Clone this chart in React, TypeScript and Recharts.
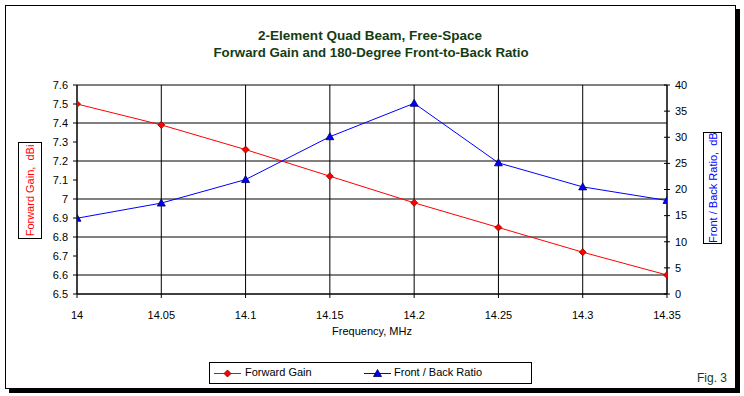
import React from "react";
import { LineChart, Line, XAxis, YAxis, CartesianGrid, Legend } from "recharts";

const freqs = [14, 14.05, 14.1, 14.15, 14.2, 14.25, 14.3, 14.35];
const forwardGain = [7.5, 7.39, 7.26, 7.12, 6.98, 6.85, 6.72, 6.6];
const frontBack = [14.5, 17.4, 21.9, 30.1, 36.5, 25.1, 20.5, 17.9];
const gainTicks = [6.5, 6.6, 6.7, 6.8, 6.9, 7, 7.1, 7.2, 7.3, 7.4, 7.5, 7.6];
const fbTicks = [0, 5, 10, 15, 20, 25, 30, 35, 40];

const data = freqs.map((f, i) => ({ freq: f, gain: forwardGain[i], fb: frontBack[i] }));

const FONT = "'Liberation Sans', Arial, sans-serif";
const TITLE_COLOR = "#143c14";

const Diamond = (props: any) => {
  const { cx, cy } = props;
  if (cx == null || cy == null) return null;
  const r = 3.5;
  return (
    <polygon
      points={`${cx},${cy - r} ${cx + r},${cy} ${cx},${cy + r} ${cx - r},${cy}`}
      fill="#ff0000"
      stroke="#800000"
      strokeWidth={0.8}
    />
  );
};

const Triangle = (props: any) => {
  const { cx, cy } = props;
  if (cx == null || cy == null) return null;
  return (
    <polygon
      points={`${cx},${cy - 4} ${cx + 4},${cy + 3} ${cx - 4},${cy + 3}`}
      fill="#0000ff"
      stroke="#000060"
      strokeWidth={0.8}
    />
  );
};

const RightTick = (props: any) => {
  const { x, y, payload } = props;
  return (
    <g>
      <line x1={x - 11} x2={x - 8} y1={y} y2={y} stroke="#000" />
      <text x={x} y={y} dy="0.35em" textAnchor="start" fontSize={11} fontFamily={FONT} fill="#000">
        {payload.value}
      </text>
    </g>
  );
};

const LegendContent = () => (
  <div style={{ position: "relative", width: "100%", height: "100%", fontFamily: FONT, fontSize: 11 }}>
    <svg width={28} height={20} style={{ position: "absolute", left: 4, top: 0 }}>
      <line x1={0} x2={27} y1={10.5} y2={10.5} stroke="#ff0000" />
      <polygon points="13.5,7 17,10.5 13.5,14 10,10.5" fill="#ff0000" stroke="#800000" strokeWidth={0.8} />
    </svg>
    <span style={{ position: "absolute", left: 35, top: 3, color: "#000" }}>Forward Gain</span>
    <svg width={28} height={20} style={{ position: "absolute", left: 154, top: 0 }}>
      <line x1={0} x2={27} y1={10.5} y2={10.5} stroke="#0000ff" />
      <polygon points="13.5,6.5 17.5,13.5 9.5,13.5" fill="#0000ff" stroke="#000060" strokeWidth={0.8} />
    </svg>
    <span style={{ position: "absolute", left: 184, top: 3, color: "#000" }}>Front / Back Ratio</span>
  </div>
);

export default function App() {
  return (
    <div style={{ position: "fixed", left: 0, top: 0, width: 744, height: 396, background: "#fff", fontFamily: FONT }}>
      <LineChart width={744} height={396} data={data} margin={{ top: 85, right: 37, bottom: 57, left: 37 }}>
        <CartesianGrid yAxisId="left" stroke="#000" strokeWidth={1} />
        <XAxis
          dataKey="freq"
          type="number"
          domain={[14, 14.35]}
          ticks={freqs}
          allowDataOverflow
          height={45}
          stroke="#000"
          tickSize={4}
          tickMargin={13}
          tick={{ fill: "#000", fontSize: 11, fontFamily: FONT }}
          tickFormatter={(v: number) => String(v)}
          label={{
            content: (p: any) => (
              <text
                x={p.viewBox.x + p.viewBox.width / 2}
                y={p.viewBox.y + 41}
                textAnchor="middle"
                fontSize={11}
                fontFamily={FONT}
                fill="#000"
              >
                Frequency, MHz
              </text>
            ),
          }}
        />
        <YAxis
          yAxisId="left"
          domain={[6.5, 7.6]}
          ticks={gainTicks}
          allowDataOverflow
          width={40}
          stroke="#000"
          tickSize={4}
          tickMargin={5}
          tick={{ fill: "#000", fontSize: 11, fontFamily: FONT }}
          tickFormatter={(v: number) => String(v)}
        />
        <YAxis
          yAxisId="right"
          orientation="right"
          domain={[0, 40]}
          ticks={fbTicks}
          allowDataOverflow
          width={40}
          stroke="#000"
          tickSize={3}
          tickMargin={5}
          tick={<RightTick />}
        />
        <Line
          yAxisId="left"
          dataKey="gain"
          name="Forward Gain"
          stroke="#ff0000"
          strokeWidth={1}
          dot={<Diamond />}
          activeDot={false}
          isAnimationActive={false}
        />
        <Line
          yAxisId="right"
          dataKey="fb"
          name="Front / Back Ratio"
          stroke="#0000ff"
          strokeWidth={1}
          dot={<Triangle />}
          activeDot={false}
          isAnimationActive={false}
        />
        <Legend
          verticalAlign="middle"
          align="center"
          layout="horizontal"
          content={<LegendContent />}
          wrapperStyle={{
            left: 209,
            top: 362,
            width: 323,
            height: 22,
            border: "1px solid #000",
            boxSizing: "border-box",
            background: "#fff",
          }}
        />
      </LineChart>
      <svg width={744} height={396} style={{ position: "absolute", left: 0, top: 0, pointerEvents: "none", zIndex: 2 }}>
        <defs>
          <clipPath id="rclip">
            <rect x={703.5} y={132.5} width={18} height={111} />
          </clipPath>
        </defs>
        <rect x={5.5} y={5.5} width={730} height={383} fill="none" stroke="#000" />
        <rect x={735} y={9} width={5} height={384} fill="#000" />
        <rect x={9} y={388} width={731} height={5} fill="#000" />
        <text
          x={370}
          y={39.5}
          textAnchor="middle"
          fontSize={13}
          fontWeight="bold"
          fontFamily={FONT}
          fill={TITLE_COLOR}
          textLength={224}
          lengthAdjust="spacingAndGlyphs"
        >
          2-Element Quad Beam, Free-Space
        </text>
        <text
          x={371}
          y={56.5}
          textAnchor="middle"
          fontSize={13}
          fontWeight="bold"
          fontFamily={FONT}
          fill={TITLE_COLOR}
          textLength={315}
          lengthAdjust="spacingAndGlyphs"
        >
          Forward Gain and 180-Degree Front-to-Back Ratio
        </text>
        <rect x={18.5} y={142.5} width={23} height={96} fill="#fff" stroke="#000" />
        <text
          transform="translate(34,190.5) rotate(-90)"
          textAnchor="middle"
          fontSize={11}
          fontFamily={FONT}
          fill="#ff0000"
          style={{ whiteSpace: "pre" }}
        >
          {"Forward Gain,  dBi"}
        </text>
        <rect x={703.5} y={132.5} width={18} height={111} fill="#fff" stroke="#000" />
        <g clipPath="url(#rclip)">
          <text
            transform="translate(716.5,243) rotate(-90)"
            textAnchor="start"
            fontSize={11}
            fontFamily={FONT}
            fill="#0000ff"
            style={{ whiteSpace: "pre" }}
          >
            {"Front / Back Ratio,  dB"}
          </text>
        </g>
        <text x={697} y={381.5} fontSize={12} fontFamily={FONT} fill={TITLE_COLOR}>
          Fig. 3
        </text>
      </svg>
    </div>
  );
}
